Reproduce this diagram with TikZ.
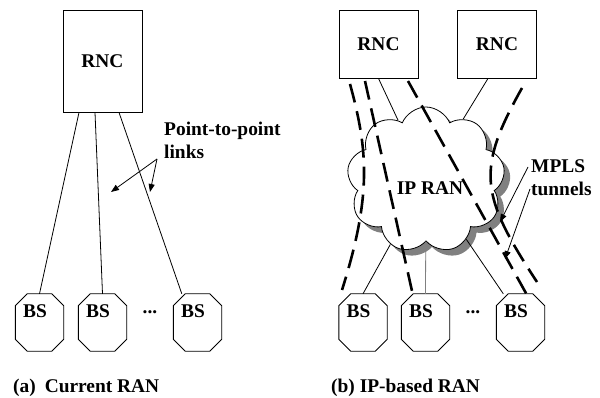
\documentclass[tikz,border=0pt]{standalone}
\usepackage{fontspec}
\setmainfont{Liberation Serif}
\usetikzlibrary{shapes.symbols,arrows.meta,calc}

% octagon outline drawn on the border of a rectangular node
\newcommand\bsoutline[1]{%
  \draw[line width=0.9pt]
    ([xshift=12pt]#1.north west) -- ([xshift=-12pt]#1.north east)
    -- ([yshift=-12pt]#1.north east) -- ([yshift=12pt]#1.south east)
    -- ([xshift=-12pt]#1.south east) -- ([xshift=12pt]#1.south west)
    -- ([yshift=12pt]#1.south west) -- ([yshift=-12pt]#1.north west) -- cycle;}

\begin{document}
\begin{tikzpicture}[x=1pt,y=-1pt,
  every node/.style={inner sep=0pt,font=\fontsize{19.4}{23}\selectfont\bfseries},
  box/.style={draw,line width=0.9pt,minimum width=79pt},
  bsbox/.style={minimum width=48pt,minimum height=57pt},
  link/.style={line width=0.8pt},
  tunnel/.style={line width=2.6pt,dash pattern=on 19pt off 9pt},
  callout/.style={line width=0.8pt,-{Triangle[length=8pt,width=6pt]}},
  ipcloud/.style={cloud,cloud puffs=9,cloud puff arc=135,aspect=1.1,
    minimum width=158pt,minimum height=146pt},
]
\useasboundingbox (0,0) rectangle (600,398);

% ---------- (a) current RAN ----------
\node[box,minimum height=102pt] (r0) at (102.5,61) {RNC};
\node[bsbox] (b1) at (39.5,322.5) {};
\node[bsbox] (b2) at (102.5,322.5) {};
\node[bsbox] (b3) at (197.5,322.5) {};
\foreach \b in {b1,b2,b3}{\bsoutline{\b}
  \node at ($(\b)+(-4.5,-11.5)$) {BS};}
\node (dotsa) at (150,312) {...};

\draw[link] ([xshift=-23.5pt]r0.south) -- (b1.north);
\draw[link] ([xshift=-7.5pt]r0.south) -- (b2.north);
\draw[link] ([xshift=16.5pt]r0.south) -- ([xshift=8.5pt]b3.north west);

\node[align=left,anchor=west] (ptp) at (164,140.5) {Point-to-point\\links};
\coordinate (ppo) at (157,159);
\coordinate (ppl) at (111,192);
\coordinate (ppr) at (150,192);
\draw[callout] (ppo) -- (ppl);
\draw[callout] (ppo) -- (ppr);

\node[anchor=west] (capa) at (13,388) {(a)\hspace{9pt}Current RAN};

% ---------- (b) IP-based RAN ----------
\node[box,minimum height=68pt] (r1) at (378.5,44) {RNC};
\node[box,minimum height=68pt] (r2) at (497,44) {RNC};

\node[ipcloud,fill=black!50] (clsh) at (432,186) {};
\node[ipcloud,draw,line width=0.8pt,fill=white] (cl) at (426,180) {};
\node (ipran) at (430,188) {IP RAN};

\node[bsbox] (c1) at (363,322.5) {};
\node[bsbox] (c2) at (425.5,322.5) {};
\node[bsbox] (c3) at (520.5,322.5) {};
\foreach \b in {c1,c2,c3}{\bsoutline{\b}
  \node at ($(\b)+(-4.5,-11.5)$) {BS};}
\node (dotsb) at (473,312) {...};

% access links between RNCs, cloud and base stations
\draw[link] (r1.south) -- (cl);
\draw[link] ([xshift=-9pt]r2.south) -- (cl);
\draw[link] (cl) -- (c1.north);
\draw[link,black!50] (cl) -- (c2.north);
\draw[link] (cl) -- ([xshift=7pt]c3.north west);

% MPLS tunnels
\coordinate (ta0) at (350,84);
\coordinate (ta1) at (342,290);
\coordinate (tb0) at (365,81);
\coordinate (tb1) at (412,291);
\coordinate (te0) at (408,81);
\coordinate (te1) at (527,295);
\coordinate (td0) at (522,88);
\coordinate (td1) at (537,282);
\draw[tunnel] (ta0) .. controls (368,150) and (372,195) .. (ta1);
\draw[tunnel] (tb0) -- (tb1);
\draw[tunnel] (te0) -- (te1);
\draw[tunnel] (td0) .. controls (476,170) and (480,195) .. (td1);

\node[align=left,anchor=west] (mpls) at (531,177.5) {MPLS\\tunnels};
\coordinate (m1o) at (528,167);
\coordinate (m1e) at (500,222);
\coordinate (m2o) at (530,189);
\coordinate (m2e) at (505,259);
\draw[callout] (m1o) -- (m1e);
\draw[callout] (m2o) -- (m2e);

\node[anchor=west] (capb) at (331,388) {(b) IP-based RAN};
\end{tikzpicture}
\end{document}
